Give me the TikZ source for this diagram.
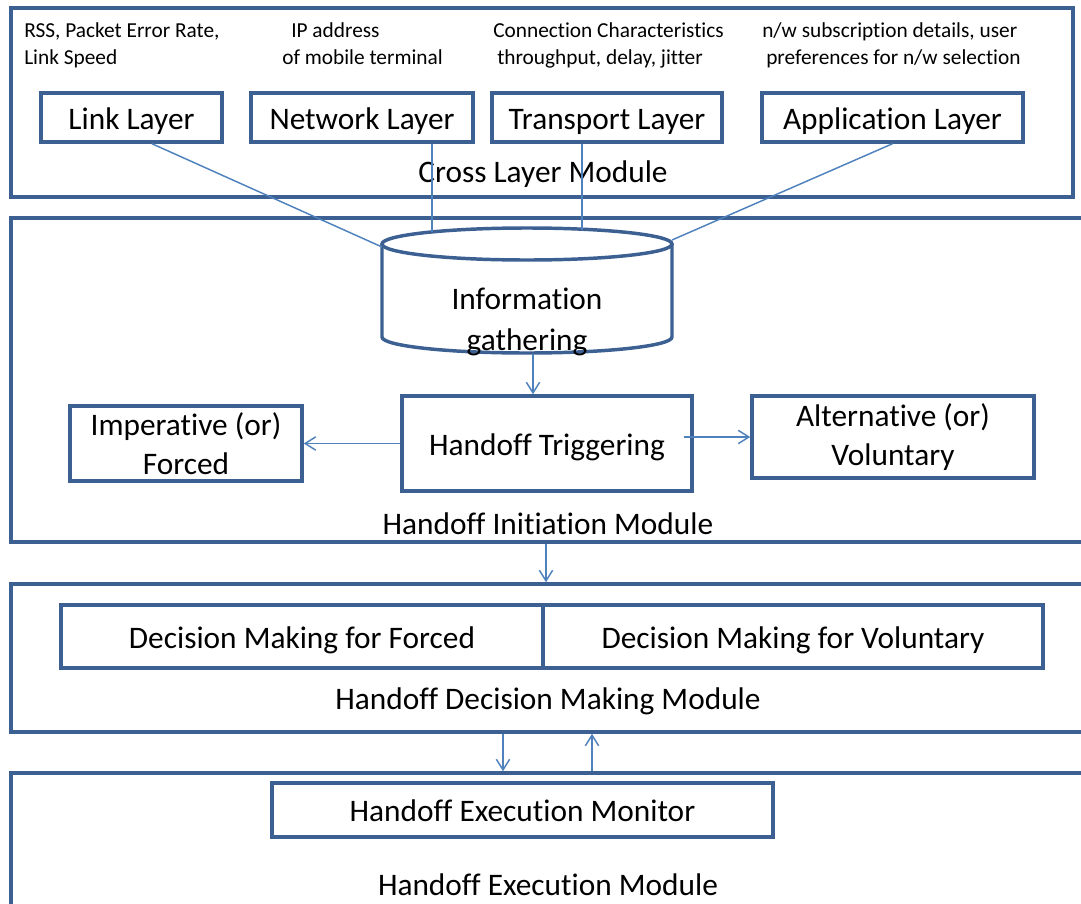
\documentclass[tikz,border=0pt]{standalone}
\usepackage{fontspec}
\setmainfont{Carlito}[Ligatures=NoCommon]
\usetikzlibrary{arrows.meta,calc}
\definecolor{bord}{RGB}{60,96,146}
\definecolor{conn}{RGB}{79,129,189}
\newcommand{\lowr}[1]{\raisebox{-2.5pt}[\height][\depth]{\vphantom{lAyg}#1}}
\begin{document}
\begin{tikzpicture}[x=0.75pt,y=-0.75pt,
  big/.style={font=\fontsize{23.5}{29}\selectfont},
  small/.style={font=\fontsize{16}{20}\selectfont, inner sep=0pt, anchor=base west},
  box/.style={draw=bord, line width=2.6pt, inner sep=0pt, big, align=center},
  mod/.style={draw=bord, line width=2.6pt, inner sep=0pt},
  cline/.style={draw=conn, line width=1.1pt},
  arr/.style={cline, -{Straight Barb[length=8pt,width=10pt]}}]
\useasboundingbox (0,0) rectangle (1081,903);
\begin{scope}
\clip (0,0) rectangle (1081,903);
% modules
\node[mod, minimum width=796.5pt, minimum height=141.75pt] (crossmod) at (542,102.5) {};
\node[mod, minimum width=816.75pt, minimum height=243pt] (initmod) at (555.5,380) {};
\node[mod, minimum width=816.75pt, minimum height=111pt] (decmod) at (555.5,658) {};
\node[mod, minimum width=816.75pt, minimum height=117.75pt] (execmod) at (555.5,851.5) {};
% layer boxes
\node[box, minimum width=135.75pt, minimum height=36.75pt] (link) at (131.5,117.5) {\lowr{Link Layer}};
\node[box, minimum width=166.5pt, minimum height=36.75pt] (net) at (362,117.5) {\lowr{Network Layer}};
\node[box, minimum width=172.5pt, minimum height=36.75pt] (trans) at (607,117.5) {\lowr{Transport Layer}};
\node[box, minimum width=195.75pt, minimum height=36.75pt] (app) at (892.5,117.5) {\lowr{Application Layer}};
% small texts
\node[small] (t1a) at (24,37) {RSS, Packet Error Rate,};
\node[small] (t1b) at (24,64) {Link Speed};
\node[small] (t2a) at (291,37) {IP address};
\node[small] (t2b) at (282,64) {of mobile terminal};
\node[small] (t3a) at (493,37) {Connection Characteristics};
\node[small] (t3b) at (497,64) {throughput, delay, jitter};
\node[small] (t4a) at (762,37) {n/w subscription details, user};
\node[small] (t4b) at (766,64) {preferences for n/w selection};
\node[big] (crosslbl) at (543,174) {Cross Layer Module};
% cylinder
\draw[bord, line width=2.6pt] (382,244) -- (382,337)
  arc[start angle=180, end angle=360, x radius=108.75pt, y radius=12pt] -- (672,244);
\draw[bord, line width=2.6pt] (527,244) ellipse[x radius=108.75pt, y radius=12pt];
\node[font=\fontsize{23.5}{30.75}\selectfont, align=center, inner sep=0pt] (info) at (527,322) {Information\\gathering};
\coordinate (cylL) at (382,247);
\coordinate (cylNet) at (432,232);
\coordinate (cylTr) at (582,229.5);
\coordinate (cylR) at (672,240);
\coordinate (cylB) at (533,354);
% initiation boxes
\node[box, minimum width=217.5pt, minimum height=71.25pt] (trig) at (547,443.5) {\lowr{Handoff Triggering}};
\node[box, minimum width=174pt, minimum height=56.25pt] (imp) at (186,443.5) {Imperative (or)\\Forced};
\node[box, minimum width=211.5pt, minimum height=61.5pt] (alt) at (893,437) {Alternative (or)\\Voluntary};
\node[big] (initlbl) at (548,524) {Handoff Initiation Module};
% decision
\node[box, minimum width=361.5pt, minimum height=47.25pt] (decF) at (302,636.5) {\lowr{Decision Making for Forced}};
\node[box, minimum width=375pt, minimum height=47.25pt] (decV) at (793,636.5) {\lowr{Decision Making for Voluntary}};
\node[big] (declbl) at (548,701) {Handoff Decision Making Module};
% execution
\node[box, minimum width=375.75pt, minimum height=40.5pt] (mon) at (522.5,810) {\lowr{Handoff Execution Monitor}};
\node[big] (execlbl) at (548,885) {Handoff Execution Module};
% connectors
\draw[cline] ($(link.south)+(20.5,0)$) -- (cylL);
\draw[cline] ($(net.south)+(70,0)$) -- (cylNet);
\draw[cline] ($(trans.south)+(-25,0)$) -- (cylTr);
\draw[cline] (app.south) -- (cylR);
\draw[arr] (cylB) -- (cylB |- trig.north);
\draw[arr] (trig.west) -- (imp.east);
\draw[arr] ($(trig.east |- alt.west)+(-10,0)$) -- (alt.west);
\draw[arr] ($(initmod.south)+(-9.5,0)$) -- ($(decmod.north)+(-9.5,0)$);
\draw[arr] ($(decmod.south)+(-52.5,0)$) -- ($(execmod.north)+(-52.5,0)$);
\draw[arr] ($(execmod.north)+(36.5,0)$) -- ($(decmod.south)+(36.5,0)$);
\end{scope}
\end{tikzpicture}
\end{document}
